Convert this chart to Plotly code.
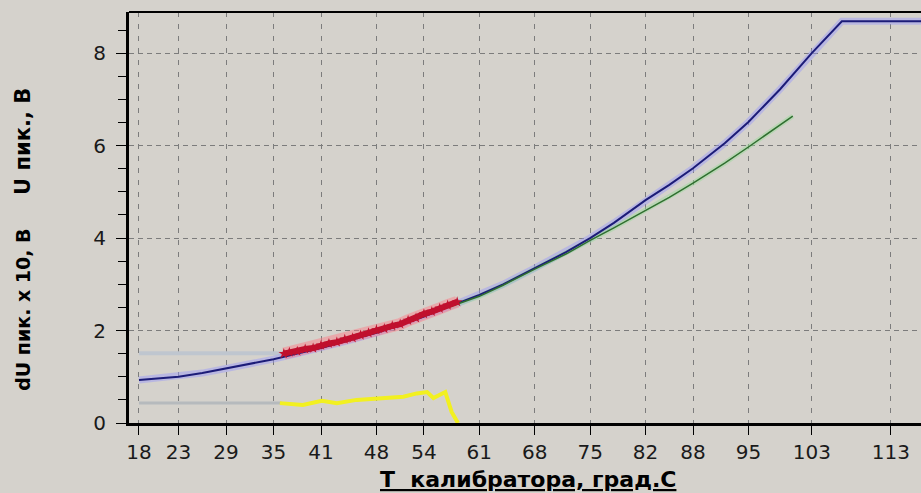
import plotly.graph_objects as go

# ---------------- data ----------------
x_tick_vals = [18, 23, 29, 35, 41, 48, 54, 61, 68, 75, 82, 88, 95, 103, 113]
x_tick_text = [str(v) for v in x_tick_vals]

T_blue = [18, 20, 23, 26, 29, 32, 35, 38, 41, 44, 48, 51, 54, 56, 58, 61, 64, 68,
          72, 75, 78, 82, 85, 88, 92, 95, 99, 103, 106.8, 117]
U_blue = [0.93, 0.96, 1.00, 1.08, 1.18, 1.27, 1.38, 1.50, 1.62, 1.76, 1.95, 2.12,
          2.30, 2.44, 2.57, 2.77, 3.00, 3.35, 3.70, 4.00, 4.33, 4.82, 5.15, 5.51,
          6.05, 6.51, 7.22, 8.00, 8.69, 8.69]

T_green = [57, 61, 64, 68, 72, 75, 78, 82, 85, 88, 92, 95, 98, 100.6]
U_green = [2.50, 2.74, 2.98, 3.33, 3.66, 3.95, 4.22, 4.60, 4.88, 5.19, 5.62, 5.97,
           6.32, 6.64]

T_red = [36.3, 37, 38, 39, 40, 41, 42, 43, 44, 45, 46, 47, 48, 49, 50, 51, 52, 53,
         54, 55, 56, 57, 58.2]
U_red = [1.50, 1.53, 1.55, 1.60, 1.62, 1.68, 1.72, 1.75, 1.81, 1.84, 1.90, 1.95,
         2.01, 2.04, 2.10, 2.14, 2.22, 2.27, 2.36, 2.41, 2.48, 2.55, 2.62]

T_yellow = [35.8, 38.7, 41.1, 43.0, 45.5, 48.1, 51.4, 53.1, 54.4, 55.2, 56.7, 57.5, 58.3]
dU_yellow = [0.43, 0.39, 0.48, 0.43, 0.50, 0.54, 0.57, 0.64, 0.67, 0.54, 0.67, 0.24, 0.0]

T_grey_hi = [18, 36.3]
U_grey_hi = [1.51, 1.51]
T_grey_lo = [18, 36.0]
U_grey_lo = [0.43, 0.43]

x_title = "<u>T  калибратора, град.C</u>"
y_title_top = "U пик., В"
y_title_bottom = "dU пик. x 10, В"

# ---------------- figure ----------------
BG = "#d5d2cc"
FONT = "DejaVu Sans"

fig = go.Figure()

def add_line(x, y, color, width, markers=False):
    fig.add_trace(go.Scatter(x=x, y=y, mode="lines+markers" if markers else "lines",
                             line=dict(color=color, width=width),
                             marker=dict(symbol="star", size=8, color=color,
                                         line=dict(width=0)),
                             hoverinfo="skip", showlegend=False))

add_line(T_grey_hi, U_grey_hi, "#bfc6cf", 4)
add_line(T_grey_lo, U_grey_lo, "#b6babd", 3)

# halos
add_line(T_blue, U_blue, "rgba(150,150,250,0.45)", 7)
add_line(T_green, U_green, "rgba(150,220,150,0.45)", 5)
add_line(T_red, U_red, "rgba(255,120,130,0.45)", 12)

add_line(T_blue, U_blue, "#1c1c78", 2)
add_line(T_green, U_green, "#2f6f2f", 1.5)
add_line(T_red, U_red, "#c0102e", 6, markers=True)
add_line(T_yellow, dU_yellow, "#f2f020", 4)

fig.update_layout(
    width=921, height=493,
    margin=dict(l=129, r=0, t=12, b=70, autoexpand=False),
    paper_bgcolor=BG, plot_bgcolor=BG,
    showlegend=False,
    font=dict(family=FONT, color="#1a1a1a", size=20),
    xaxis=dict(
        range=[16.74, 116.8], automargin=False,
        tickmode="array", tickvals=x_tick_vals, ticktext=x_tick_text,
        showgrid=True, gridcolor="#7c7c7c", gridwidth=1, griddash="5px,7px",
        showline=True, linecolor="black", linewidth=3,
        ticks="outside", ticklen=9, tickcolor="black", tickwidth=1,
        tickfont=dict(family=FONT, size=20, color="#1a1a1a"),
        zeroline=False,
    ),
    yaxis=dict(
        range=[0, 8.89], automargin=False,
        tick0=0, dtick=2,
        showgrid=True, gridcolor="#7c7c7c", gridwidth=1, griddash="5px,4px",
        showline=True, linecolor="black", linewidth=3,
        ticks="outside", ticklen=10, tickcolor="black", tickwidth=1,
        minor=dict(dtick=0.5, ticks="outside", ticklen=8, tickcolor="black",
                   tickwidth=1, showgrid=False),
        tickfont=dict(family=FONT, size=20, color="#1a1a1a"),
        ticklabelstandoff=6,
        zeroline=False,
    ),
    shapes=[dict(type="line", xref="paper", yref="paper", x0=0, x1=1, y0=1, y1=1,
                 line=dict(color="black", width=2))],
    annotations=[
        dict(text=x_title, xref="paper", yref="paper", x=0.5035, y=-0.137,
             xanchor="center", yanchor="middle", showarrow=False,
             font=dict(family=FONT, size=22, color="black", weight="bold")),
        dict(text=y_title_top, xref="paper", yref="paper", x=-0.134, y=0.686,
             xanchor="center", yanchor="middle", textangle=-90, showarrow=False,
             font=dict(family=FONT, size=21, color="black", weight="bold")),
        dict(text=y_title_bottom, xref="paper", yref="paper", x=-0.134, y=0.275,
             xanchor="center", yanchor="middle", textangle=-90, showarrow=False,
             font=dict(family=FONT, size=19, color="black", weight="bold")),
    ],
)

fig.write_html(
    "out.html",
    config={"displayModeBar": False},
    post_script="document.body.style.margin='0';document.body.style.overflow='hidden';"
                "document.body.style.background='" + BG + "';",
)
